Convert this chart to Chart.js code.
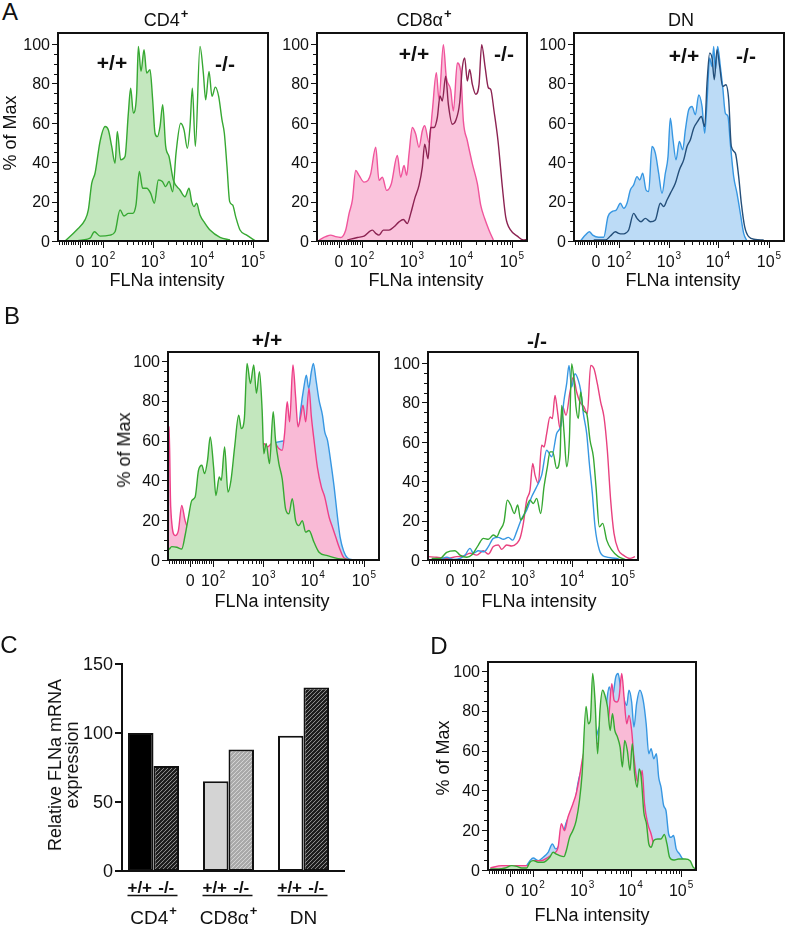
<!DOCTYPE html>
<html><head><meta charset="utf-8">
<script src="https://cdn.jsdelivr.net/npm/chart.js@4.4.1/dist/chart.umd.min.js"></script>
<style>
html,body{margin:0;padding:0;background:#fff}
body{width:787px;height:926px;position:relative;overflow:hidden;font-family:"Liberation Sans",Arial,Helvetica,sans-serif;color:#111}
canvas{position:absolute}
.t{position:absolute;transform:translate(-50%,-50%);line-height:1;white-space:nowrap;font-size:18px}
.rot{transform:translate(-50%,-50%) rotate(-90deg)}
.b{font-weight:bold;font-size:21px}
.L{font-size:24px}
.sup{font-size:13px;font-weight:bold;position:relative;top:-8px;margin-left:1px}
.two{line-height:17px;text-align:center}
</style></head><body>
<canvas id="a1"></canvas><canvas id="a2"></canvas><canvas id="a3"></canvas>
<canvas id="b1"></canvas><canvas id="b2"></canvas>
<canvas id="c1"></canvas><canvas id="d1"></canvas>

<div class="t L" style="left:10px;top:12px">A</div>
<div class="t" style="left:166px;top:20px">CD4<span class="sup">+</span></div>
<div class="t" style="left:424px;top:20px">CD8α<span class="sup">+</span></div>
<div class="t" style="left:681px;top:20px">DN</div>
<div class="t rot" style="left:10px;top:133px">% of Max</div>
<div class="t b" style="left:112px;top:62px">+/+</div>
<div class="t b" style="left:225px;top:63px">-/-</div>
<div class="t b" style="left:414px;top:53px">+/+</div>
<div class="t b" style="left:504px;top:53px">-/-</div>
<div class="t b" style="left:684px;top:55px">+/+</div>
<div class="t b" style="left:746px;top:55px">-/-</div>
<div class="t" style="left:167px;top:280px">FLNa intensity</div>
<div class="t" style="left:426px;top:280px">FLNa intensity</div>
<div class="t" style="left:683px;top:280px">FLNa intensity</div>

<div class="t L" style="left:12px;top:316px">B</div>
<div class="t b" style="left:267px;top:339px">+/+</div>
<div class="t b" style="left:537px;top:340px">-/-</div>
<div class="t rot" style="left:124px;top:450px">% of Max</div>
<div class="t" style="left:272px;top:601px">FLNa intensity</div>
<div class="t" style="left:539px;top:601px">FLNa intensity</div>

<div class="t L" style="left:9px;top:645px">C</div>
<div class="t rot two" style="left:63.5px;top:765px">Relative FLNa mRNA<br>expression</div>

<div class="t L" style="left:439px;top:646px">D</div>
<div class="t rot" style="left:443px;top:758px">% of Max</div>
<div class="t" style="left:592px;top:915px">FLNa intensity</div>

<script>
// ---------- axis definitions (logicle-like display units) ----------
const X_MIN = 1.122, X_MAX = 5.408;
const X_TICK_VALUES = [1.571, 2.041, 3.061, 4.061, 5.102];
const X_TICK_LABELS = [['0',''],['10','2'],['10','3'],['10','4'],['10','5']];
const X_MINOR_TICKS = [1.148,1.195,1.242,1.289,1.336,1.383,1.430,1.477,1.524,
  1.618,1.665,1.712,1.759,1.806,1.853,1.900,1.947,1.994,
  2.348,2.528,2.655,2.754,2.835,2.903,2.962,3.014,
  3.362,3.538,3.663,3.760,3.839,3.906,3.964,4.015,
  4.374,4.558,4.688,4.789,4.871,4.941,5.001,5.054];
const Y_TICK_VALUES = [0,20,40,60,80,100];
const Y_MINOR_TICKS = [5,10,15,25,30,35,45,50,55,65,70,75,85,90,95];

// ---------- Panel A ----------
const A_CD4_WT = [[1.265,0],[1.503,5.6],[1.673,10.7],[1.741,15.8],[1.810,29.3],[1.878,34.4],[1.980,50.5],[2.082,58.1],[2.150,56.4],[2.218,48],[2.286,39.5],[2.333,55.6],[2.401,41.2],[2.490,42.9],[2.558,64.9],[2.605,77.6],[2.660,64.9],[2.728,75.1],[2.762,98.8],[2.816,86.1],[2.878,97.1],[2.932,85.3],[3.0,87],[3.054,71.7],[3.102,54.7],[3.150,53],[3.204,58.1],[3.259,69.2],[3.320,48],[3.388,42.9],[3.476,31],[3.612,25.9],[3.714,22.5],[3.796,26.8],[3.850,20],[3.898,17.5],[3.952,19.2],[4.020,13.2],[4.122,9],[4.224,5.6],[4.429,1.9],[4.633,0.5]];
const A_CD4_KO = [[1.435,0],[1.776,1.4],[1.864,4.7],[1.980,2.5],[2.184,3],[2.286,4.7],[2.388,15.8],[2.469,12.7],[2.558,14],[2.646,14],[2.714,18.3],[2.782,35.3],[2.850,26.8],[2.932,26.8],[3.014,24.2],[3.088,19.2],[3.170,31],[3.252,30.2],[3.320,27.6],[3.388,30.2],[3.463,25],[3.531,44.6],[3.626,59.8],[3.694,56.4],[3.762,47.1],[3.816,58.1],[3.864,77.6],[3.925,48],[4.020,98.8],[4.088,85.3],[4.136,71.7],[4.204,86.1],[4.265,73.4],[4.333,78.1],[4.401,73.4],[4.469,61.5],[4.517,54.7],[4.571,37.8],[4.626,20],[4.687,18.3],[4.748,12.4],[4.837,5.6],[4.973,3],[5.143,0.2]];
const A_CD8_WT = [[1.163,0.5],[1.299,2.2],[1.401,3],[1.503,2.2],[1.605,1.8],[1.707,5.5],[1.776,13.9],[1.844,20.7],[1.912,35.8],[1.980,33.3],[2.082,29.9],[2.163,30.8],[2.218,34.1],[2.320,47.6],[2.388,30.8],[2.456,32.4],[2.544,25.7],[2.639,29.1],[2.762,43.4],[2.830,32.4],[2.898,38.3],[2.952,33.3],[3.0,44.2],[3.068,57.6],[3.136,54.3],[3.204,47.6],[3.272,56],[3.320,58.5],[3.408,50.1],[3.476,66],[3.558,85.4],[3.612,71.9],[3.701,99.7],[3.762,82.9],[3.850,76.9],[3.905,66],[3.986,90.4],[4.054,86.2],[4.109,61],[4.190,50.9],[4.293,39.2],[4.395,29.1],[4.463,18.2],[4.544,11.4],[4.633,5.5],[4.721,0.5]];
const A_CD8_KO = [[1.741,0.5],[1.946,1.8],[2.082,2.5],[2.252,5.5],[2.320,3.9],[2.388,3],[2.476,5.5],[2.592,5.5],[2.694,7.2],[2.796,9.7],[2.884,10.9],[2.966,8.9],[3.034,13.9],[3.116,21.5],[3.204,28.2],[3.272,37.5],[3.320,49.2],[3.388,41.7],[3.442,57.6],[3.510,57.6],[3.578,62.7],[3.633,73.6],[3.680,71.1],[3.748,83.7],[3.803,69.4],[3.884,59.3],[3.952,61],[4.034,70.3],[4.088,87.9],[4.136,92.9],[4.190,81.2],[4.238,87.1],[4.293,79.5],[4.361,74.5],[4.429,79.5],[4.483,99.7],[4.551,88.7],[4.619,77.8],[4.667,77],[4.735,66],[4.816,50.9],[4.905,27.4],[4.973,12.3],[5.075,5.5],[5.211,2.5],[5.333,0.5],[5.408,0.8]];
const A_DN_WT = [[1.252,0],[1.354,3],[1.435,4.7],[1.503,3],[1.626,1.9],[1.728,1.9],[1.816,12.4],[1.898,14.9],[1.986,15.8],[2.068,19.2],[2.136,16.6],[2.204,19.2],[2.272,25.9],[2.340,28.5],[2.408,32.7],[2.463,31],[2.524,34.4],[2.592,25.9],[2.646,25.1],[2.714,48],[2.782,44.6],[2.850,34.4],[2.918,24.2],[2.986,34.4],[3.041,42.9],[3.088,62.4],[3.143,51.4],[3.204,41.2],[3.272,50.5],[3.340,46.3],[3.395,56.4],[3.463,66.6],[3.531,68.3],[3.599,64.1],[3.667,74.2],[3.735,68.3],[3.789,54.7],[3.837,70.8],[3.891,92.9],[3.939,88.6],[3.973,98.8],[4.007,86.9],[4.054,98.8],[4.109,88.6],[4.156,78.5],[4.211,64.9],[4.265,63.2],[4.312,49.7],[4.381,32.7],[4.449,24.2],[4.517,14],[4.585,3.9],[4.653,0]];
const A_DN_KO = [[1.524,0.5],[1.762,0.5],[1.864,2.5],[1.966,4.7],[2.034,3.9],[2.102,3.6],[2.170,3.9],[2.238,5.6],[2.340,14],[2.408,11.5],[2.490,9.8],[2.578,11.5],[2.680,9.8],[2.782,10.7],[2.884,19.2],[2.952,17.5],[3.020,20.8],[3.088,24.2],[3.190,29.3],[3.272,36.1],[3.361,41.2],[3.429,48],[3.497,51.4],[3.565,57.3],[3.646,60.7],[3.721,63.2],[3.789,58.1],[3.837,80.2],[3.891,95.4],[3.939,92.9],[3.986,81.9],[4.041,97.1],[4.095,88.6],[4.156,78.5],[4.224,79.3],[4.279,71.7],[4.333,48],[4.415,44.6],[4.483,32.7],[4.537,19.2],[4.605,7.3],[4.687,2.2],[4.823,0.8],[4.993,0.5]];

// ---------- Panel B ----------
const B_WT_CD4 = [[1.125,5],[1.150,5.5],[1.197,6.7],[1.299,6.4],[1.401,5.5],[1.469,12.3],[1.537,21.5],[1.605,29.9],[1.673,31.6],[1.741,45],[1.810,47.6],[1.864,43.4],[1.925,50.1],[1.980,61.8],[2.048,46.7],[2.095,32.4],[2.163,41.7],[2.204,40],[2.272,56.8],[2.340,34.1],[2.401,40],[2.476,56.8],[2.558,72.8],[2.612,66],[2.673,71.1],[2.728,98.8],[2.796,88.7],[2.864,98],[2.918,83.7],[2.980,94.6],[3.034,75.3],[3.068,53.4],[3.116,58.5],[3.184,48.4],[3.259,74.5],[3.306,60.2],[3.374,48.4],[3.442,40.8],[3.510,25.7],[3.578,23.2],[3.646,30.8],[3.714,19.8],[3.782,17.3],[3.850,19.8],[3.918,14],[3.986,14.8],[4.088,8.9],[4.190,3.9],[4.361,2.2],[4.633,0.5],[5.041,0]];
const B_WT_CD8 = [[1.125,67],[1.143,66.9],[1.177,26.6],[1.265,12.3],[1.333,14.8],[1.401,27.4],[1.469,19.8],[1.524,16.5],[1.639,19.8],[1.776,21.5],[1.980,26.6],[2.184,29.9],[2.456,33.3],[2.728,40],[2.932,46.7],[3.034,55],[3.068,58.5],[3.136,56.8],[3.272,59.3],[3.374,56],[3.442,55.1],[3.490,63.5],[3.544,79.5],[3.592,69.4],[3.660,98],[3.714,82],[3.762,66.9],[3.816,72],[3.864,77.8],[3.918,69.4],[3.986,86.2],[4.034,72],[4.088,60.2],[4.156,46.7],[4.238,36.6],[4.306,31.6],[4.395,21.5],[4.463,16.5],[4.531,11.4],[4.599,6.4],[4.701,1],[4.905,0]];
const B_WT_DN = [[1.299,1.3],[1.503,6.4],[1.776,13.1],[2.048,19.8],[2.320,26.6],[2.592,36.6],[2.864,43.4],[3.136,51.8],[3.272,58.5],[3.544,60.2],[3.680,63.5],[3.782,66.9],[3.816,75.3],[3.884,87.1],[3.932,92.9],[3.980,86.2],[4.034,94.6],[4.075,98.8],[4.129,90.4],[4.190,80.3],[4.259,72.8],[4.306,64.4],[4.361,60.2],[4.429,49.2],[4.497,36.6],[4.565,21.5],[4.619,11.4],[4.687,4.7],[4.769,1],[4.905,0]];
const B_KO_CD8 = [[1.129,1.7],[1.299,1.4],[1.503,0.8],[1.707,1.7],[1.844,2],[1.980,3.4],[2.116,2.5],[2.252,4.7],[2.354,3],[2.456,6.8],[2.558,7.6],[2.626,5.4],[2.728,7.6],[2.830,7.1],[2.932,8.4],[3.0,11],[3.068,18.6],[3.136,30.4],[3.204,35.5],[3.259,49],[3.306,43.1],[3.374,38.9],[3.442,58.3],[3.490,57.4],[3.544,64.2],[3.612,72.6],[3.660,71.8],[3.714,83.6],[3.762,76],[3.816,66.7],[3.871,77.7],[3.939,73.5],[4.020,85.3],[4.088,92.9],[4.156,85.3],[4.224,80.2],[4.306,77.7],[4.374,74.3],[4.442,98.8],[4.510,97.1],[4.578,89.5],[4.646,80.2],[4.714,72.6],[4.782,55.7],[4.850,30.4],[4.918,13.5],[5.007,5.1],[5.109,2.5],[5.245,0.8],[5.347,1.7]];
const B_KO_DN = [[1.129,0],[1.367,0.3],[1.503,1.4],[1.639,0.3],[1.776,0.8],[1.878,2.5],[1.980,5.9],[2.048,3.4],[2.150,4.7],[2.265,4.2],[2.354,6.8],[2.456,11],[2.558,11.5],[2.660,10.5],[2.762,11.5],[2.850,10.1],[2.932,14.4],[3.034,21.1],[3.136,25.3],[3.238,32.1],[3.340,37.2],[3.442,43.1],[3.544,55.7],[3.646,52.4],[3.748,64.2],[3.837,68.4],[3.898,81.1],[3.952,89.5],[4.0,98.8],[4.054,87.8],[4.122,94.6],[4.190,91.2],[4.238,86.1],[4.293,74.3],[4.361,64.2],[4.415,49],[4.476,33.8],[4.531,16.9],[4.619,5.1],[4.735,1.7],[4.973,0.8],[5.041,0]];
const B_KO_CD4 = [[1.197,0.8],[1.367,0.8],[1.503,3.9],[1.673,4.7],[1.776,2.5],[1.912,1.4],[2.014,2.5],[2.150,7.6],[2.252,11],[2.354,10.5],[2.456,12.7],[2.524,11.8],[2.592,15.2],[2.673,19.4],[2.741,30.4],[2.809,27.9],[2.884,23.6],[2.952,27.9],[3.014,20.3],[3.068,22],[3.136,27],[3.204,30.4],[3.272,28.7],[3.340,31.3],[3.422,23.6],[3.490,37.2],[3.558,47.3],[3.612,54.9],[3.667,54.9],[3.748,46.5],[3.816,52.4],[3.850,78.5],[3.898,65],[3.952,47.3],[4.007,60.8],[4.054,99.7],[4.102,91.2],[4.143,77.7],[4.190,71.8],[4.238,85.3],[4.293,76],[4.361,74.3],[4.429,60.8],[4.497,52.4],[4.551,37.2],[4.619,16.9],[4.687,18.6],[4.769,10.1],[4.871,5.1],[5.007,1.7],[5.143,0.3]];

// ---------- Panel C ----------
const C_GROUPS = ['CD4','CD8α','DN'];
const C_GROUP_SUP = ['+','+',''];
const C_GENOTYPES = ['+/+','-/-'];
const C_WT = [100,65,98];
const C_KO = [76,88,133];
const C_Y_TICKS = [0,50,100,150];

// ---------- Panel D ----------
const D_DN = [[1.170,0.5],[1.408,1],[1.544,2.2],[1.680,1],[1.884,1.3],[1.986,4.7],[2.054,6],[2.156,4.7],[2.259,6.4],[2.361,8.9],[2.449,13.1],[2.517,10.6],[2.599,13.1],[2.687,19.8],[2.769,25.7],[2.837,23.2],[2.905,31.5],[2.973,43.3],[3.041,50],[3.143,56.7],[3.245,63.4],[3.347,66.8],[3.415,71.8],[3.483,75.2],[3.551,81.9],[3.619,92],[3.687,87],[3.755,97],[3.803,98.7],[3.857,91.1],[3.912,86.9],[3.980,82.7],[4.027,90.3],[4.082,84.4],[4.129,71.8],[4.184,83.6],[4.252,90.3],[4.320,85.2],[4.381,73.5],[4.435,58.4],[4.483,61],[4.537,55.9],[4.592,58.4],[4.639,46.6],[4.687,41.6],[4.741,32.4],[4.789,29.9],[4.844,18.1],[4.891,16.4],[4.946,17.3],[5.000,10.6],[5.068,8.1],[5.136,5.5],[5.218,4.7],[5.354,0.5]];
const D_CD8 = [[1.170,1],[1.408,2.2],[1.680,2.2],[1.952,2.2],[2.054,4.7],[2.224,4.7],[2.361,6.4],[2.463,8.1],[2.565,11.4],[2.633,23.2],[2.701,19.8],[2.769,26.5],[2.871,33.2],[2.939,38.3],[3.007,46.6],[3.075,56.7],[3.177,65.1],[3.279,66.8],[3.381,63.4],[3.483,71.8],[3.531,80.2],[3.599,75.2],[3.673,93.6],[3.721,85.2],[3.776,84.4],[3.823,86.9],[3.878,98.7],[3.925,86.9],[3.980,73.5],[4.027,77.7],[4.082,70.1],[4.129,56.7],[4.197,45],[4.252,44.1],[4.299,50],[4.347,33.2],[4.415,23.2],[4.483,18.1],[4.551,11.4],[4.639,6.4],[4.741,3],[4.878,1.3],[5.082,0.7]];
const D_CD4 = [[1.170,0.5],[1.340,0.5],[1.476,1],[1.612,2.2],[1.714,1.8],[1.816,1],[1.918,1],[1.986,3.9],[2.054,4.7],[2.156,3.9],[2.259,3.9],[2.395,6.4],[2.463,8.9],[2.531,8],[2.599,7.2],[2.687,6.7],[2.735,9.7],[2.803,16.4],[2.871,19.8],[2.939,24.8],[3.007,34.9],[3.061,48.3],[3.143,82.2],[3.190,73.5],[3.231,75.2],[3.279,98.7],[3.327,85.2],[3.381,58.4],[3.429,80.2],[3.483,90.3],[3.531,87.8],[3.585,81.9],[3.639,70.1],[3.687,78.5],[3.735,70.1],[3.789,66.8],[3.844,61.7],[3.891,51.7],[3.939,65.1],[3.993,60],[4.048,50],[4.095,63.4],[4.143,48.3],[4.197,41.6],[4.238,50.8],[4.279,46.6],[4.333,29],[4.388,23.2],[4.435,13.1],[4.483,11.4],[4.537,14.8],[4.619,15.6],[4.687,15.6],[4.755,17.8],[4.810,13.1],[4.864,6.4],[4.946,5],[5.048,5.5],[5.184,5.5],[5.286,4.7],[5.354,1.3],[5.408,0.5]];

// ---------- colours ----------
const GREEN='#36a832', GREEN_F='#c3e7be';
const PINK='#f0559c', PINK_F='#fac3dc';
const MAROON='#8c2352';
const BLUE='#3797e2', BLUE_F='#bcdbf6';
const NAVY='#244f7a';

const FONT='"Liberation Sans", Arial, Helvetica, sans-serif';
const pts = a => a.map(p => ({x:p[0], y:p[1]}));

const histDecor = {
  id:'histDecor',
  afterDatasetsDraw(chart){
    const {ctx, chartArea:a, scales:{x,y}} = chart;
    ctx.save();
    ctx.strokeStyle='#111'; ctx.lineWidth=1;
    ctx.beginPath();
    Y_MINOR_TICKS.forEach(v=>{const p=Math.round(y.getPixelForValue(v))+0.5; ctx.moveTo(a.left-1,p); ctx.lineTo(a.left-4,p);});
    Y_TICK_VALUES.forEach(v=>{const p=Math.round(y.getPixelForValue(v))+0.5; ctx.moveTo(a.left-1,p); ctx.lineTo(a.left-6,p);});
    X_MINOR_TICKS.forEach(v=>{const p=Math.round(x.getPixelForValue(v))+0.5; ctx.moveTo(p,a.bottom+1); ctx.lineTo(p,a.bottom+4);});
    X_TICK_VALUES.forEach(v=>{const p=Math.round(x.getPixelForValue(v))+0.5; ctx.moveTo(p,a.bottom+1); ctx.lineTo(p,a.bottom+7);});
    ctx.stroke();
    ctx.lineWidth=2;
    ctx.strokeRect(a.left,a.top,a.right-a.left,a.bottom-a.top);
    ctx.fillStyle='#111';
    ctx.font='16px '+FONT; ctx.textAlign='right'; ctx.textBaseline='alphabetic';
    Y_TICK_VALUES.forEach(v=>ctx.fillText(String(v), a.left-8, y.getPixelForValue(v)+5.7));
    const base=a.bottom+25.7;
    ctx.textAlign='left';
    X_TICK_LABELS.forEach((lab,i)=>{
      const px=x.getPixelForValue(X_TICK_VALUES[i]);
      ctx.font='16px '+FONT; const w1=ctx.measureText(lab[0]).width;
      ctx.font='10px '+FONT; const w2=lab[1]?ctx.measureText(lab[1]).width+1:0;
      const sx=px-(w1+w2)/2;
      ctx.font='16px '+FONT; ctx.fillText(lab[0],sx,base);
      if(lab[1]){ctx.font='10px '+FONT; ctx.fillText(lab[1],sx+w1+1,base-8);}
    });
    ctx.restore();
  }
};

function series(data,line,fill){
  return {data:pts(data), borderColor:line, backgroundColor:fill||'rgba(0,0,0,0)', fill:fill?'origin':false, borderWidth:1.4, pointRadius:0, cubicInterpolationMode:'monotone'};
}

function hist(id,box,yMax,datasets){
  const PL=60,PT=6,PR=10,PB=40;
  const cv=document.getElementById(id);
  cv.width=box.w+PL+PR; cv.height=box.h+PT+PB;
  cv.style.left=(box.l-PL)+'px'; cv.style.top=(box.t-PT)+'px';
  new Chart(cv,{type:'line',data:{datasets},
    options:{responsive:false,animation:false,events:[],
      layout:{padding:{left:PL,top:PT,right:PR,bottom:PB}},
      plugins:{legend:{display:false},tooltip:{enabled:false}},
      scales:{x:{type:'linear',min:X_MIN,max:X_MAX,display:false},
              y:{type:'linear',min:0,max:yMax,display:false}}},
    plugins:[histDecor]});
}

hist('a1',{l:58,t:33,w:210,h:208},105.6,[series(A_CD4_KO,GREEN),series(A_CD4_WT,GREEN,GREEN_F)]);
hist('a2',{l:317,t:33,w:210,h:208},105.6,[series(A_CD8_KO,MAROON),series(A_CD8_WT,PINK,PINK_F)]);
hist('a3',{l:574,t:33,w:210,h:208},105.6,[series(A_DN_KO,NAVY),series(A_DN_WT,BLUE,BLUE_F)]);
hist('b1',{l:168,t:352,w:211,h:208},104.5,[series(B_WT_CD4,GREEN,GREEN_F),series(B_WT_CD8,'#ee3f88','#f9bad6'),series(B_WT_DN,BLUE,BLUE_F)]);
hist('b2',{l:428,t:352,w:210,h:208},105.6,[series(B_KO_CD4,GREEN),series(B_KO_DN,BLUE),series(B_KO_CD8,'#e8417f')]);
hist('d1',{l:488,t:662,w:208,h:208},104.5,[series(D_CD4,GREEN,GREEN_F),series(D_CD8,'#ee3f88','#f9bad6'),series(D_DN,BLUE,BLUE_F)]);

// ---------- Panel C bar chart ----------
function hatch(bg,fg,size,lw){
  const c=document.createElement('canvas'); c.width=c.height=size;
  const g=c.getContext('2d'); g.fillStyle=bg; g.fillRect(0,0,size,size);
  g.strokeStyle=fg; g.lineWidth=lw; g.beginPath();
  g.moveTo(0,size); g.lineTo(size,0);
  g.moveTo(-1,1); g.lineTo(1,-1);
  g.moveTo(size-1,size+1); g.lineTo(size+1,size-1);
  g.stroke();
  return g.createPattern(c,'repeat');
}
const DARK_HATCH=hatch('#ffffff','#1a1a1a',4,2.4);
const LIGHT_HATCH=hatch('#ffffff','#a8a8a8',4,2.4);

const barDecor={
  id:'barDecor',
  afterDatasetsDraw(chart){
    const {ctx,chartArea:a,scales:{y}}=chart;
    const axX=a.left+6, y0=y.getPixelForValue(0), yTop=y.getPixelForValue(150);
    ctx.save();
    ctx.strokeStyle='#111'; ctx.lineWidth=2;
    ctx.beginPath();
    ctx.moveTo(axX,yTop-1); ctx.lineTo(axX,y0); ctx.lineTo(a.right+4,y0);
    C_Y_TICKS.forEach(v=>{const p=y.getPixelForValue(v); ctx.moveTo(axX,p); ctx.lineTo(axX-7,p);});
    ctx.stroke();
    ctx.fillStyle='#111';
    ctx.font='18px '+FONT; ctx.textAlign='right'; ctx.textBaseline='alphabetic';
    C_Y_TICKS.forEach(v=>ctx.fillText(String(v),axX-9,y.getPixelForValue(v)+6.4));
    const m0=chart.getDatasetMeta(0), m1=chart.getDatasetMeta(1);
    ctx.textAlign='center';
    ctx.lineWidth=1.3;
    C_GROUPS.forEach((g,j)=>{
      const xa=m0.data[j].x, xb=m1.data[j].x, cx=(xa+xb)/2;
      ctx.font='bold 17px '+FONT;
      ctx.fillText(C_GENOTYPES[0],xa-1,y0+22);
      ctx.fillText(C_GENOTYPES[1],xb,y0+22);
      ctx.beginPath(); ctx.moveTo(cx-26,y0+24.5); ctx.lineTo(cx+24,y0+24.5); ctx.stroke();
      ctx.font='19px '+FONT; const w1=ctx.measureText(g).width;
      ctx.font='bold 13px '+FONT; const w2=C_GROUP_SUP[j]?ctx.measureText(C_GROUP_SUP[j]).width+1:0;
      const sx=cx-(w1+w2)/2;
      ctx.textAlign='left';
      ctx.font='19px '+FONT; ctx.fillText(g,sx,y0+53);
      if(C_GROUP_SUP[j]){ctx.font='bold 13px '+FONT; ctx.fillText(C_GROUP_SUP[j],sx+w1+1,y0+44);}
      ctx.textAlign='center';
    });
    ctx.restore();
  }
};

(function(){
  const cv=document.getElementById('c1');
  cv.width=360; cv.height=276; cv.style.left='0px'; cv.style.top='650px';
  new Chart(cv,{type:'bar',
    data:{labels:C_GROUPS,datasets:[
      {label:C_GENOTYPES[0],data:C_WT,backgroundColor:['#000000','#d4d4d4','#ffffff']},
      {label:C_GENOTYPES[1],data:C_KO,backgroundColor:[DARK_HATCH,LIGHT_HATCH,DARK_HATCH]}]},
    options:{responsive:false,animation:false,events:[],
      layout:{padding:{left:116,right:19,top:14,bottom:55}},
      datasets:{bar:{barPercentage:1,categoryPercentage:0.68,borderColor:'#111',borderWidth:2,borderSkipped:false}},
      plugins:{legend:{display:false},tooltip:{enabled:false}},
      scales:{x:{display:false},y:{min:0,max:150,display:false}}},
    plugins:[barDecor]});
})();
</script>
</body></html>
